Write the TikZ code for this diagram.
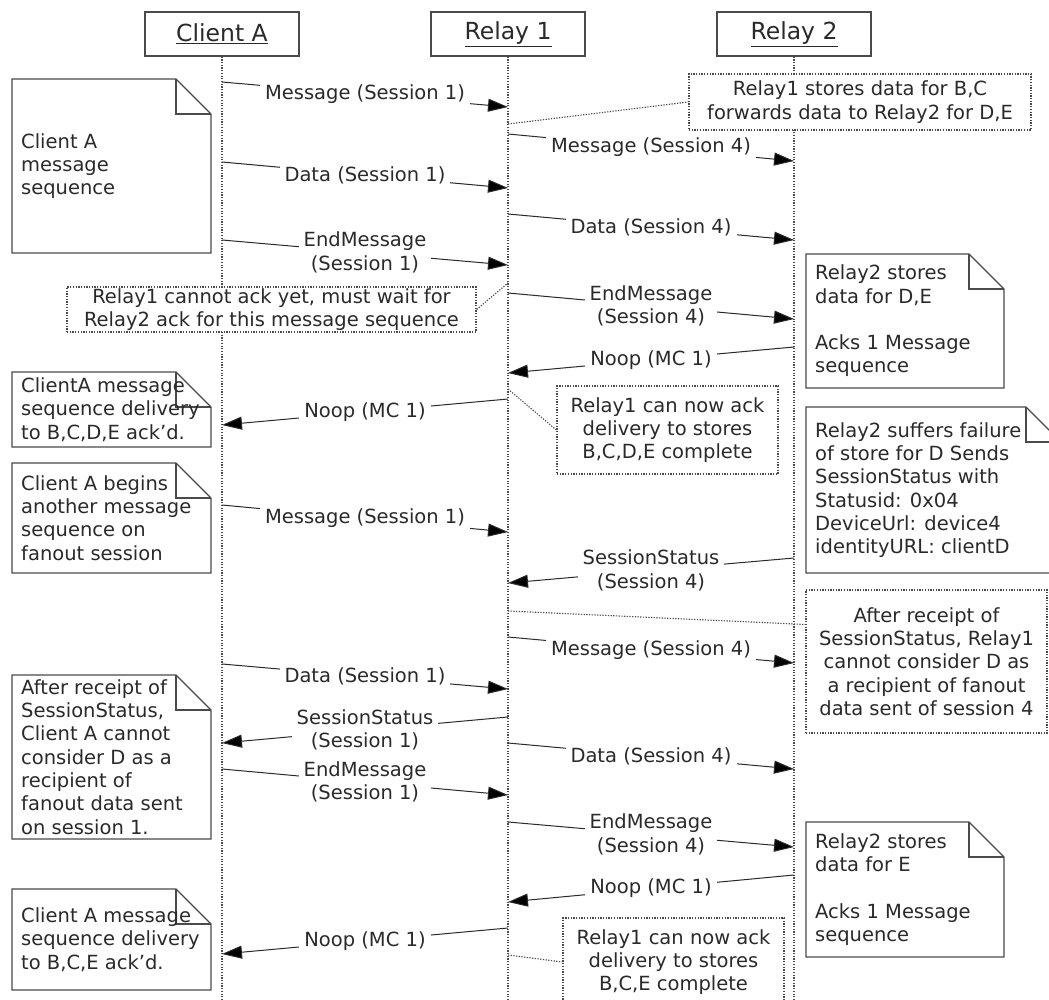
\documentclass[tikz,border=0pt]{standalone}
\usepackage{fontspec}
\setmainfont{DejaVu Sans}
\usetikzlibrary{arrows.meta}
\newcommand{\bodyfont}{\fontsize{19.5pt}{23.3pt}\selectfont}
\newcommand{\headfont}{\fontsize{23.5pt}{28pt}\selectfont}
\definecolor{ink}{HTML}{2A2A2A}
\definecolor{edge}{HTML}{4A4A4A}
\tikzset{
  header/.style={draw=edge, line width=1.3pt, minimum width=154pt, minimum height=44pt, inner sep=0pt, font=\headfont, text=ink},
  lifeline/.style={draw=edge, line width=1.2pt, dash pattern=on 1.2pt off 1.5pt},
  msgline/.style={draw=ink, line width=1pt, -{Triangle[length=20pt,width=13pt,fill=black]}},
  msglabel/.style={fill=white, inner xsep=5pt, inner ysep=2pt, align=center, font=\bodyfont, text=ink},
  noteline/.style={draw=edge, line width=1.3pt, line join=miter},
  notetext/.style={inner sep=0pt, align=left, font=\bodyfont, text=ink},
  dnote/.style={draw=edge, line width=1.3pt, dash pattern=on 1.3pt off 1.4pt, fill=white, align=center, inner sep=0pt, font=\bodyfont, text=ink},
  dlink/.style={draw=edge, line width=1.1pt, dash pattern=on 1.3pt off 1.4pt},
}
% message: name, x1, y1, x2, y2, label
\newcommand{\sqmsg}[6]{%
  \coordinate (#1s) at (#2,#3);
  \coordinate (#1e) at (#4,#5);
  \draw[msgline] (#1s) -- node[msglabel] (#1l) {#6} (#1e);
}
% folded note: name, x1, y1, x2, y2, text
\newcommand{\foldnote}[6]{%
  \draw[noteline, fill=white] (#2,#3) -- (#4-35,#3) -- (#4,#3+35) -- (#4,#5) -- (#2,#5) -- cycle;
  \draw[noteline] (#4-35,#3) -- (#4-35,#3+35) -- (#4,#3+35);
  \node[notetext, anchor=west] (#1) at (#2+9,{(#3+#5)/2}) {#6};
}
\begin{document}
\begin{tikzpicture}[x=1pt,y=-1pt]
\useasboundingbox (0,0) rectangle (1049,1000);
\clip (0,0) rectangle (1049,1000);
\fill[white] (0,0) rectangle (1049,1000);

% headers
\node[header] (hA) at (222,34) {\underline{Client A}};
\node[header] (hB) at (508,34) {\underline{Relay 1}};
\node[header] (hC) at (794,34) {\underline{Relay 2}};

% lifelines
\coordinate (eA) at (222,1000);
\coordinate (eB) at (508,1000);
\coordinate (eC) at (794,1000);
\draw[lifeline] (hA.south) -- (eA);
\draw[lifeline] (hB.south) -- (eB);
\draw[lifeline] (hC.south) -- (eC);

% dotted annotation links
\coordinate (k1) at (508,124);
\coordinate (k2) at (508,283);
\coordinate (k3) at (508,389);
\coordinate (k4) at (508,611);
\coordinate (k5) at (508,955);

% dotted annotation boxes
\node[dnote, minimum width=342pt, minimum height=56pt] (d1) at (860,102) {Relay1 stores data for B,C\\forwards data to Relay2 for D,E};
\node[dnote, minimum width=409pt, minimum height=45pt] (d2) at (271.5,309.5) {Relay1 cannot ack yet, must wait for\\Relay2 ack for this message sequence};
\node[dnote, minimum width=221pt, minimum height=88pt] (d3) at (667.5,430) {Relay1 can now ack\\delivery to stores\\B,C,D,E complete};
\node[dnote, minimum width=241pt, minimum height=143pt] (d4) at (926.5,661.5) {After receipt of\\SessionStatus, Relay1\\cannot consider D as\\a recipient of fanout\\data sent of session 4};
\node[dnote, minimum width=221pt, minimum height=88pt] (d5) at (673.5,962) {Relay1 can now ack\\delivery to stores\\B,C,E complete};

\draw[dlink] (k1) -- (d1.west);
\draw[dlink] (d2.east) -- (k2);
\draw[dlink] (k3) -- (d3.west);
\draw[dlink] (k4) -- (d4.163);
\draw[dlink] (k5) -- (d5.west);

% messages Client A <-> Relay 1
\sqmsg{m1}{222}{82}{508}{107}{Message (Session 1)}
\sqmsg{m2}{222}{162}{508}{188}{Data (Session 1)}
\sqmsg{m3}{222}{240}{508}{265}{EndMessage\\(Session 1)}
\sqmsg{m4}{508}{399}{222}{425}{Noop (MC 1)}
\sqmsg{m5}{222}{505}{508}{532}{Message (Session 1)}
\sqmsg{m6}{222}{664}{508}{689}{Data (Session 1)}
\sqmsg{m7}{508}{717}{222}{743}{SessionStatus\\(Session 1)}
\sqmsg{m8}{222}{769}{508}{795}{EndMessage\\(Session 1)}
\sqmsg{m9}{508}{928}{222}{954}{Noop (MC 1)}

% messages Relay 1 <-> Relay 2
\sqmsg{r1}{508}{134}{794}{161}{Message (Session 4)}
\sqmsg{r2}{508}{214}{794}{240}{Data (Session 4)}
\sqmsg{r3}{508}{293}{794}{319}{EndMessage\\(Session 4)}
\sqmsg{r4}{794}{347}{508}{373}{Noop (MC 1)}
\sqmsg{r5}{794}{558}{508}{583}{SessionStatus\\(Session 4)}
\sqmsg{r6}{508}{637}{794}{663}{Message (Session 4)}
\sqmsg{r7}{508}{743}{794}{769}{Data (Session 4)}
\sqmsg{r8}{508}{822}{794}{847}{EndMessage\\(Session 4)}
\sqmsg{r9}{794}{875}{508}{902}{Noop (MC 1)}

% folded notes, left
\foldnote{n1}{12}{79}{211}{253}{Client A\\message\\sequence}
\foldnote{n2}{12}{372}{211}{447}{ClientA message\\sequence delivery\\to B,C,D,E ack’d.}
\foldnote{n3}{12}{463}{211}{573}{Client A begins\\another message\\sequence on\\fanout session}
\foldnote{n4}{12}{675}{211}{839}{After receipt of\\SessionStatus,\\Client A cannot\\consider D as a\\recipient of\\fanout data sent\\on session 1.}
\foldnote{n5}{12}{889}{211}{990}{Client A message\\sequence delivery\\to B,C,E ack’d.}

% folded notes, right
\foldnote{n6}{806}{254}{1004}{388}{Relay2 stores\\data for D,E\\[23.3pt]Acks 1 Message\\sequence}
\foldnote{n7}{806}{407}{1061}{573}{Relay2 suffers failure\\of store for D Sends\\SessionStatus with\\Statusid: 0x04\\DeviceUrl: device4\\identityURL: clientD}
\foldnote{n8}{806}{822}{1004}{957}{Relay2 stores\\data for E\\[23.3pt]Acks 1 Message\\sequence}
\end{tikzpicture}
\end{document}
